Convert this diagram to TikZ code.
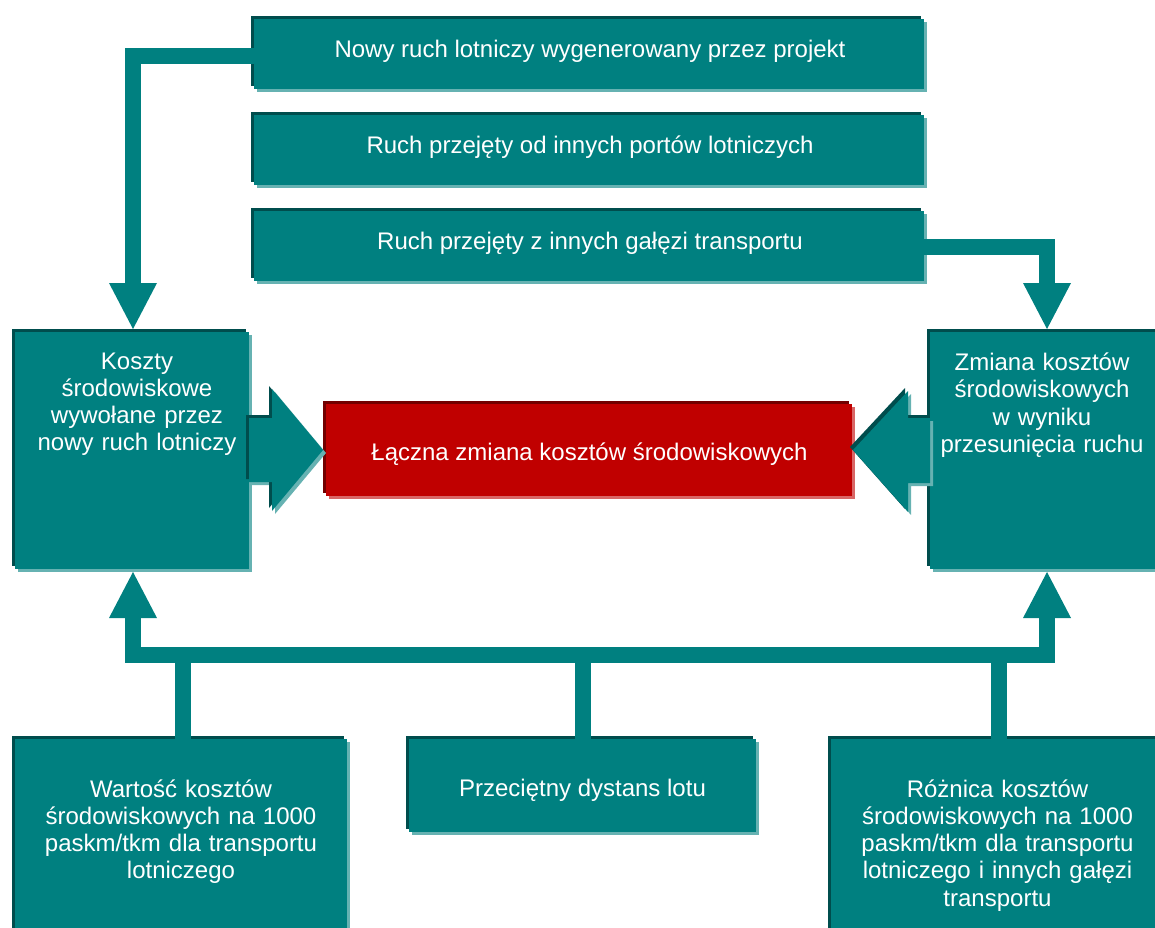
\documentclass[tikz,border=0pt]{standalone}
\usepackage{fontspec}
\setmainfont{Liberation Sans}
\usetikzlibrary{calc,shadows}
\definecolor{tealmain}{RGB}{0,128,128}
\definecolor{tealdark}{RGB}{0,77,77}
\definecolor{teallight}{RGB}{102,178,178}
\definecolor{redmain}{RGB}{192,0,0}
\definecolor{reddark}{RGB}{115,0,0}
\definecolor{redlight}{RGB}{217,102,102}
\tikzset{
  emboss/.style={
    general shadow={fill=#1light, shadow xshift=3pt, shadow yshift=-3pt},
    general shadow={fill=#1dark, shadow xshift=-3pt, shadow yshift=3pt}},
  tealbox/.style 2 args={rectangle, draw=none, fill=tealmain, emboss=teal,
    inner sep=0pt, outer sep=0pt, minimum width=#1pt, minimum height=#2pt},
  redbox/.style 2 args={rectangle, draw=none, fill=redmain, emboss=red,
    inner sep=0pt, outer sep=0pt, minimum width=#1pt, minimum height=#2pt},
  label text/.style={anchor=base, inner sep=0pt, text=white, align=center,
    font=\fontsize{24}{27.3}\selectfont},
  wide text/.style={label text, text width=#1pt},
  shaft/.style={draw=tealmain, line width=16pt},
  head/.style={fill=tealmain},
  fatarrow/.style={fill=tealmain, emboss=teal},
}
\begin{document}
\begin{tikzpicture}[x=1pt,y=-1pt]
\useasboundingbox (0,0) rectangle (1155,927);
\clip (0,0) rectangle (1155,927);

% boxes
\node[tealbox={670}{70}] (B1) at (589,54) {};
\node[tealbox={670}{70}] (B2) at (589,150) {};
\node[tealbox={670}{70}] (B3) at (589,246) {};
\node[tealbox={234}{237}] (L) at (132,450.5) {};
\node[tealbox={234}{237}] (R) at (1047,450.5) {};
\node[redbox={526}{92}] (Red) at (589,450) {};
\node[tealbox={332}{196}] (BL) at (181,837) {};
\node[tealbox={347}{93}] (BM) at (582.5,785.5) {};
\node[tealbox={333}{196}] (BR) at (997.5,837) {};

% texts
\node[label text] (t1) at (590,57) {Nowy ruch lotniczy wygenerowany przez projekt};
\node[label text] (t2) at (590,153) {Ruch przejęty od innych portów lotniczych};
\node[label text] (t3) at (590,249) {Ruch przejęty z innych gałęzi transportu};
\node[wide text=230] (tL) at (137,369) {Koszty\\środowiskowe\\wywołane przez\\nowy ruch lotniczy};
\node[wide text=226] (tR) at (1042,370.5) {Zmiana kosztów\\środowiskowych\\w wyniku\\przesunięcia ruchu};
\node[label text] (tRed) at (589.5,460) {Łączna zmiana kosztów środowiskowych};
\node[wide text=320] (tBL) at (181,797) {Wartość kosztów\\środowiskowych na 1000\\paskm/tkm dla transportu\\lotniczego};
\node[label text] (tBM) at (582.5,796) {Przeciętny dystans lotu};
\node[wide text=320] (tBR) at (997.5,797) {Różnica kosztów\\środowiskowych na 1000\\paskm/tkm dla transportu\\lotniczego i innych gałęzi\\transportu};

% top connectors
\coordinate (tipL) at ($(L.north)+(1,-3)$);
\coordinate (tipR) at ($(R.north)+(0,-3)$);
\draw[shaft] ($(B1.west)+(0,1.5)$) -| ($(tipL)+(0,-46)$);
\fill[head] (tipL) -- ++(-24,-46) -- ++(48,0) -- cycle;
\draw[shaft] ($(B3.east)+(0,1)$) -| ($(tipR)+(0,-46)$);
\fill[head] (tipR) -- ++(-24,-46) -- ++(48,0) -- cycle;

% bottom connectors
\coordinate (upL) at ($(L.south)+(1,3)$);
\coordinate (upR) at ($(R.south)+(0,3)$);
\coordinate (bus) at ($(BM.north)+(0,-84)$);
\coordinate (dBL) at ($(BL.north)+(1.5,0)$);
\coordinate (dBR) at ($(BR.north)+(1,0)$);
\draw[shaft] ($(upL)+(0,46)$) |- (bus) -| ($(upR)+(0,46)$);
\fill[head] (upL) -- ++(-24,46) -- ++(48,0) -- cycle;
\fill[head] (upR) -- ++(-24,46) -- ++(48,0) -- cycle;
\draw[shaft] (dBL) -- (dBL |- bus);
\draw[shaft] (BM.north) -- (bus);
\draw[shaft] (dBR) -- (dBR |- bus);

% fat arrows into the red box
\coordinate (fl) at ($(Red.west)+(-3,0)$);
\coordinate (flt) at ($(fl)+(0,-32)$);
\coordinate (flb) at ($(fl)+(0,32)$);
\fill[fatarrow] (fl) -- ++(-51,-61) -- ++(0,29) -- (L.east |- flt)
  -- (L.east |- flb) -- ($(fl)+(-51,32)$) -- ($(fl)+(-51,61)$) -- cycle;
\coordinate (fr) at ($(Red.east)+(1,0)$);
\coordinate (frt) at ($(fr)+(0,-32)$);
\coordinate (frb) at ($(fr)+(0,33)$);
\fill[fatarrow] (fr) -- ++(55,-59) -- ++(0,27) -- (R.west |- frt)
  -- (R.west |- frb) -- ($(fr)+(55,33)$) -- ($(fr)+(55,62)$) -- cycle;
\end{tikzpicture}
\end{document}
